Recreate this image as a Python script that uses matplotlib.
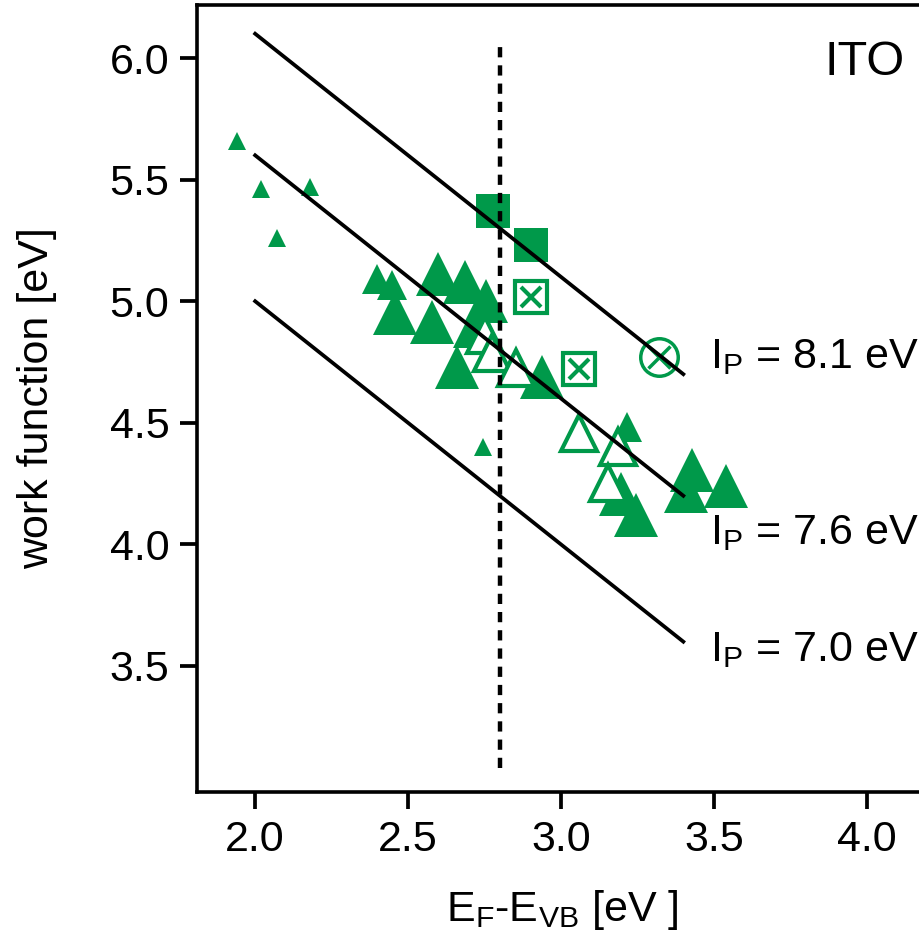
import matplotlib
matplotlib.use("Agg")
import matplotlib.pyplot as plt
import numpy as np

plt.rcParams['font.family'] = ['Liberation Sans', 'DejaVu Sans']
plt.rcParams['mathtext.fontset'] = 'custom'
plt.rcParams['mathtext.rm'] = 'Liberation Sans'
plt.rcParams['mathtext.it'] = 'Liberation Sans:italic'

GREEN = '#00994a'

# small filled triangles
small_x = [1.94, 2.02, 2.07, 2.18, 2.745]
small_y = [5.66, 5.46, 5.26, 5.47, 4.40]

# medium filled triangles
med_x = [2.398, 2.448, 3.215]
med_y = [5.09, 5.065, 4.484]

# large filled triangles
big_x = [2.457, 2.598, 2.686, 2.755, 2.578, 2.66, 2.72, 2.937, 3.196, 3.245, 3.41, 3.428, 3.54]
big_y = [4.95, 5.11, 5.08, 5.00, 4.915, 4.73, 4.90, 4.69, 4.207, 4.12, 4.22, 4.306, 4.24]

# open triangles
open_x = [2.75, 2.775, 2.852, 3.059, 3.186, 3.154]
open_y = [4.86, 4.787, 4.725, 4.458, 4.40, 4.253]

# filled squares
sq_x = [2.778, 2.902]
sq_y = [5.37, 5.23]

# boxed crosses
bx_x = [2.902, 3.059]
bx_y = [5.017, 4.72]

# circled cross
cx_x = [3.32]
cx_y = [4.77]

# ionisation potential lines: WF = IP - (EF - EVB)
ip_values = [8.1, 7.6, 7.0]
ip_labels = ['8.1', '7.6', '7.0']
line_x = np.array([2.0, 3.4])
label_y = [4.77, 4.047, 3.566]

fig = plt.figure(figsize=(9.19, 9.48), dpi=100)
ax = fig.add_axes([0.2144, 0.1646, 0.7954, 0.8301])

ax.plot(small_x, small_y, '^', color=GREEN, ms=13, mew=0, zorder=2)
ax.plot(med_x, med_y, '^', color=GREEN, ms=21, mew=0, zorder=2)
ax.plot(big_x, big_y, '^', color=GREEN, ms=31, mew=0, zorder=2)
ax.plot(open_x, open_y, '^', mfc='white', mec=GREEN, ms=26, mew=3, zorder=3)
ax.plot(sq_x, sq_y, 's', color=GREEN, ms=25, mew=0, zorder=3)
ax.plot(bx_x, bx_y, 's', mfc='white', mec=GREEN, ms=23, mew=3, zorder=3)
ax.plot(bx_x, bx_y, 'x', color=GREEN, ms=15, mew=3, zorder=3)
ax.plot(cx_x, cx_y, 'o', mfc='white', mec=GREEN, ms=27, mew=2.5, zorder=3)
ax.plot(cx_x, cx_y, 'x', color=GREEN, ms=16, mew=2.5, zorder=3)

for ip, lab, ly in zip(ip_values, ip_labels, label_y):
    ax.plot(line_x, ip - line_x, '-', color='black', lw=2.7, zorder=4)
    ax.text(3.487, ly, r'I$_\mathrm{P}$ = ' + lab + ' eV', fontsize=31,
            ha='left', va='center', zorder=5)

ax.plot([2.8, 2.8], [3.08, 6.07], color='black', lw=3.2,
        linestyle=(0, (2.3, 1.8)), dash_capstyle='butt', zorder=4)

ax.text(3.863, 5.98, 'ITO', fontsize=35, ha='left', va='center')

ax.set_xlim(1.81, 4.2)
ax.set_ylim(2.982, 6.218)
ax.set_xticks([2.0, 2.5, 3.0, 3.5, 4.0])
ax.set_yticks([3.5, 4.0, 4.5, 5.0, 5.5, 6.0])
ax.set_xticklabels(['2.0', '2.5', '3.0', '3.5', '4.0'])
ax.set_yticklabels(['3.5', '4.0', '4.5', '5.0', '5.5', '6.0'])
ax.tick_params(direction='out', length=12, width=2.7, labelsize=31, pad=8)
for s in ax.spines.values():
    s.set_linewidth(2.6)
ax.spines['right'].set_visible(False)

ax.set_xlabel(r'E$_\mathrm{F}$-E$_\mathrm{VB}$ [eV ]', fontsize=31, labelpad=20)
ax.set_ylabel('work function [eV]', fontsize=31, labelpad=38)

fig.savefig('out.png', dpi=100)
